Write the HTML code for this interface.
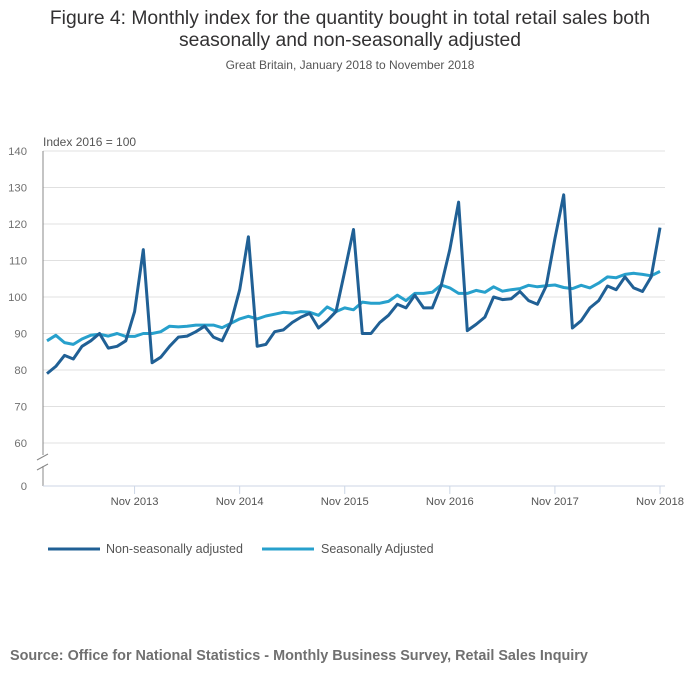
<!DOCTYPE html>
<html><head><meta charset="utf-8"><style>
body{margin:0;background:#fff;font-family:"Liberation Sans",sans-serif;}
#wrap{position:relative;width:700px;height:682px;overflow:hidden;}
</style></head><body>
<div id="wrap">
<svg id="chart" width="700" height="682" xmlns="http://www.w3.org/2000/svg">
<text x="350" y="24" text-anchor="middle" font-size="19.3" fill="#323132">Figure 4: Monthly index for the quantity bought in total retail sales both</text>
<text x="350" y="46" text-anchor="middle" font-size="19.3" fill="#323132">seasonally and non-seasonally adjusted</text>
<text x="350" y="69" text-anchor="middle" font-size="12" fill="#555">Great Britain, January 2018 to November 2018</text>
<text x="43" y="146" font-size="12" fill="#555">Index 2016 = 100</text>
<g id="grid"></g>
<g id="axes"></g>
<g id="lines"></g>
<g>
<line x1="48" y1="549" x2="100" y2="549" stroke="#206095" stroke-width="3"/>
<text x="106" y="553" font-size="12.5" fill="#555">Non-seasonally adjusted</text>
<line x1="262" y1="549" x2="314" y2="549" stroke="#27a0cc" stroke-width="3"/>
<text x="321" y="553" font-size="12.5" fill="#555">Seasonally Adjusted</text>
</g>
<text x="10" y="660" font-size="14.4" font-weight="bold" fill="#707070">Source: Office for National Statistics - Monthly Business Survey, Retail Sales Inquiry</text>
</svg>
</div>
<script>
const yTicks=[60,70,80,90,100,110,120,130,140];
const xTickLabels=["Nov 2013","Nov 2014","Nov 2015","Nov 2016","Nov 2017","Nov 2018"];
const xTickIdx=[10,22,34,46,58,70];
const nsa=[79,81,84,83,86.5,88,90,86,86.5,88,96,113,
82,83.5,86.5,89,89.3,90.5,92,89,88,93,102,116.5,
86.5,87,90.5,91,93,94.5,95.5,91.5,93.5,96,107,118.5,
90,90,93,95,98,97,100.5,97,97,103,113,126,
90.8,92.5,94.5,100,99.3,99.5,101.5,99,98,103,116,128,
91.5,93.5,97,99,103,102,105.5,102.5,101.5,105.5,119];
const sa=[88,89.5,87.5,87,88.5,89.5,89.8,89.3,90,89.2,89.2,90,
90,90.5,92,91.8,92,92.3,92.3,92.3,91.6,92.8,94,94.7,
94,94.8,95.3,95.8,95.6,96,95.8,95,97.3,96,97,96.5,
98.6,98.3,98.3,98.8,100.5,99,101,101,101.3,103.3,102.5,101,
101,101.8,101.3,102.8,101.6,102,102.3,103.2,102.8,103.1,103.3,102.6,
102.3,103.2,102.5,103.8,105.5,105.3,106.2,106.5,106.2,105.8,107];
const NS="http://www.w3.org/2000/svg";
const x0=47,x1=660,n=71;
function xs(i){return x0+i*(x1-x0)/(n-1);}
function ys(v){return 151+(140-v)*3.65;}
const grid=document.getElementById('grid'),axes=document.getElementById('axes'),lines=document.getElementById('lines');
function mk(tag,attrs,parent){const e=document.createElementNS(NS,tag);for(const k in attrs)e.setAttribute(k,attrs[k]);parent.appendChild(e);return e;}
yTicks.forEach(v=>{
 const l=mk('line',{x1:43,x2:665,y1:ys(v),y2:ys(v),stroke:'#e0e0e0','stroke-width':1},grid);
 
 
 const t=mk('text',{x:27,y:ys(v)+4,'text-anchor':'end','font-size':11.3,fill:'#707070'},axes);
 t.textContent=v;
 
 
});
const z=mk('text',{x:27,y:490,'text-anchor':'end','font-size':11.3,fill:'#707070'},axes);
z.textContent='0';


const ya=mk('path',{d:'M43,151 V455 M43,466 V486',stroke:'#888','stroke-width':1,fill:'none'},axes);


const br=mk('path',{d:'M37,460 L48,454 M37,470 L48,464',stroke:'#888','stroke-width':1,fill:'none'},axes);


const xa=mk('line',{x1:43,x2:665,y1:486,y2:486,stroke:'#ccd6e6','stroke-width':1},axes);


xTickIdx.forEach((idx,k)=>{
 const tk=mk('line',{x1:xs(idx),x2:xs(idx),y1:486,y2:494,stroke:'#ccd6e6'},axes);
 
 
 const t=mk('text',{x:xs(idx),y:505,'text-anchor':'middle','font-size':11.2,fill:'#555'},axes);
 t.textContent=xTickLabels[k];
 
 
});
function line(data,color,name){
 const p=mk('polyline',{points:data.map((v,i)=>xs(i).toFixed(1)+','+ys(v).toFixed(1)).join(' '),fill:'none',stroke:color,'stroke-width':3,'stroke-linejoin':'round'},lines);
 
 
}
line(sa,'#27a0cc','series-seasonally-adjusted');
line(nsa,'#206095','series-non-seasonally-adjusted');
</script>
</body></html>
